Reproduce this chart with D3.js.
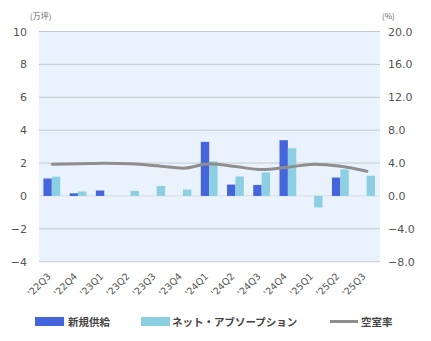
<!DOCTYPE html>
<html>
<head>
<meta charset="utf-8">
<script src="https://cdn.jsdelivr.net/npm/d3@7"></script>
<style>
  html, body { margin: 0; padding: 0; background: #ffffff; }
  svg { display: block; font-family: "Noto Sans CJK JP", "Noto Sans", sans-serif; }
</style>
</head>
<body>
<svg id="chart" width="431" height="341"></svg>
<script>
// Quarterly office market: new supply, net absorption (万坪) and vacancy rate (%)
const quarters = ["'22Q3", "'22Q4", "'23Q1", "'23Q2", "'23Q3", "'23Q4", "'24Q1", "'24Q2", "'24Q3", "'24Q4", "'25Q1", "'25Q2", "'25Q3"];
const newSupply = [1.06, 0.16, 0.33, 0, 0, 0, 3.29, 0.69, 0.67, 3.39, 0, 1.12, 0];
const netAbsorption = [1.17, 0.27, 0, 0.31, 0.61, 0.39, 2.1, 1.18, 1.43, 2.9, -0.7, 1.61, 1.23];
const vacancyRate = [3.86, 3.9, 3.98, 3.9, 3.66, 3.37, 3.9, 3.57, 3.2, 3.5, 3.86, 3.6, 3.0];
const leftTicks = [-4, -2, 0, 2, 4, 6, 8, 10];
const rightTicks = [-8, -4, 0, 4, 8, 12, 16, 20];
const seriesNames = ["新規供給", "ネット・アブソープション", "空室率"];

const colors = { supply: "#4565dc", absorption: "#8dcfe2", vacancy: "#8e8e8e" };

const svg = d3.select("#chart");
const plot = { left: 39, right: 380, top: 31.5, bottom: 261.7 };

const x = d3.scaleBand().domain(quarters).range([plot.left, plot.right]).paddingInner(0).paddingOuter(0);
const yL = d3.scaleLinear().domain([-4, 10]).range([plot.bottom, plot.top]);
const yR = d3.scaleLinear().domain([-8, 20]).range([plot.bottom, plot.top]);

// plot background
svg.append("rect")
  .attr("x", plot.left).attr("y", plot.top)
  .attr("width", plot.right - plot.left).attr("height", plot.bottom - plot.top)
  .attr("fill", "#eaf3fd");

// gridlines
svg.append("g").selectAll("line").data(leftTicks).join("line")
  .attr("x1", plot.left).attr("x2", plot.right)
  .attr("y1", d => yL(d)).attr("y2", d => yL(d))
  .attr("stroke", d => d === 0 ? "#d4dbe6" : "#c3c9d2").attr("stroke-width", 1);

// left axis
const axL = svg.append("g").attr("transform", `translate(${plot.left},0)`)
  .call(d3.axisLeft(yL).tickValues(leftTicks).tickSize(0).tickPadding(12).tickFormat(d3.format("d")));
axL.select(".domain").remove();
axL.selectAll("text").attr("fill", "#555").attr("font-size", 11).attr("font-family", "DejaVu Sans, sans-serif");

// right axis
const axR = svg.append("g").attr("transform", `translate(${plot.right},0)`)
  .call(d3.axisRight(yR).tickValues(rightTicks).tickSize(0).tickPadding(8).tickFormat(d3.format(".1f")));
axR.select(".domain").remove();
axR.selectAll("text").attr("fill", "#555").attr("font-size", 11).attr("font-family", "DejaVu Sans, sans-serif");

// unit labels
svg.append("text").attr("x", 30).attr("y", 19).attr("font-size", 8).attr("fill", "#666").text("(万坪)");
svg.append("text").attr("x", 382).attr("y", 19).attr("font-size", 8).attr("fill", "#666").text("(%)");

// bars
const barW = 8.4;
const bars = svg.append("g");
bars.selectAll("rect.supply").data(quarters).join("rect")
  .attr("class", "supply")
  .attr("x", d => x(d) + x.bandwidth() / 2 - barW - 0.3)
  .attr("width", barW)
  .attr("y", (d, i) => yL(Math.max(0, newSupply[i])))
  .attr("height", (d, i) => Math.abs(yL(newSupply[i]) - yL(0)))
  .attr("fill", colors.supply);
bars.selectAll("rect.absorb").data(quarters).join("rect")
  .attr("class", "absorb")
  .attr("x", d => x(d) + x.bandwidth() / 2 - 0.3)
  .attr("width", barW)
  .attr("y", (d, i) => yL(Math.max(0, netAbsorption[i])))
  .attr("height", (d, i) => Math.abs(yL(netAbsorption[i]) - yL(0)))
  .attr("fill", colors.absorption);

// vacancy line
const line = d3.line()
  .x((d, i) => x(quarters[i]) + x.bandwidth() / 2)
  .y(d => yR(d))
  .curve(d3.curveMonotoneX);
svg.append("path").datum(vacancyRate)
  .attr("d", line)
  .attr("fill", "none")
  .attr("stroke", colors.vacancy)
  .attr("stroke-width", 3)
  .attr("stroke-linecap", "round");

// x labels (rotated)
svg.append("g").selectAll("text").data(quarters).join("text")
  .attr("transform", d => `translate(${x(d) + x.bandwidth() / 2 - 3},${plot.bottom + 13}) rotate(-45)`)
  .attr("text-anchor", "end")
  .attr("dy", "0.35em")
  .attr("font-size", 9.5)
  .attr("fill", "#555")
  .attr("font-family", "DejaVu Sans, sans-serif")
  .text(d => d);

// legend
const legend = svg.append("g").attr("font-size", 10.5).attr("font-weight", "bold").attr("fill", "#444");
legend.append("rect").attr("x", 35).attr("y", 317).attr("width", 29).attr("height", 9).attr("fill", colors.supply);
legend.append("text").attr("x", 68).attr("y", 325.5).text(seriesNames[0]);
legend.append("rect").attr("x", 141).attr("y", 317).attr("width", 29).attr("height", 9).attr("fill", colors.absorption);
legend.append("text").attr("x", 172).attr("y", 325.5).text(seriesNames[1]);
legend.append("line").attr("x1", 330).attr("x2", 358).attr("y1", 321.5).attr("y2", 321.5)
  .attr("stroke", colors.vacancy).attr("stroke-width", 3);
legend.append("text").attr("x", 361).attr("y", 325.5).text(seriesNames[2]);
</script>
</body>
</html>
